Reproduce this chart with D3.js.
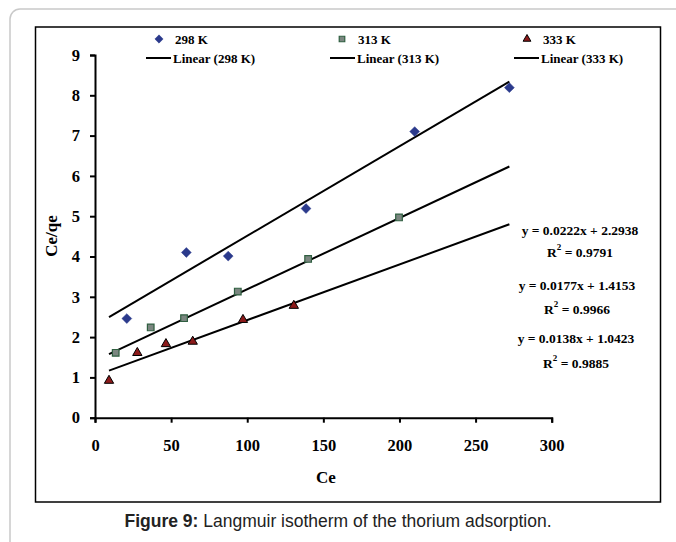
<!DOCTYPE html>
<html>
<head>
<meta charset="utf-8">
<script src="https://cdn.jsdelivr.net/npm/d3@7/dist/d3.min.js"></script>
<style>
  html, body { margin: 0; padding: 0; background: #fff; }
  svg { display: block; }
</style>
</head>
<body>
<svg id="chart" width="676" height="542"></svg>
<script>
// Langmuir isotherm data: Ce (x) against Ce/qe (y) at three temperatures
const series = ["298 K", "313 K", "333 K"];
const ce298 = [20.9, 60.0, 87.5, 138.6, 210.0, 272.2];
const ratio298 = [2.46, 4.10, 4.01, 5.19, 7.10, 8.19];
const ce313 = [13.6, 36.6, 58.5, 93.8, 140.0, 199.7];
const ratio313 = [1.61, 2.24, 2.47, 3.13, 3.94, 4.97];
const ce333 = [9.2, 27.8, 46.6, 64.2, 97.2, 130.6];
const ratio333 = [0.92, 1.61, 1.83, 1.89, 2.43, 2.78];

// Linear trendline coefficients and goodness of fit
const slopes = [0.0222, 0.0177, 0.0138];
const intercepts = [2.2938, 1.4153, 1.0423];
const rSquared = ["0.9791", "0.9966", "0.9885"];

const xTicks = [0, 50, 100, 150, 200, 250, 300];
const yTicks = [0, 1, 2, 3, 4, 5, 6, 7, 8, 9];

const svg = d3.select("#chart");
const serif = "'Liberation Serif', 'Times New Roman', serif";

// outer panel with rounded corner
svg.append("rect")
  .attr("x", 10).attr("y", 9)
  .attr("width", 700).attr("height", 560)
  .attr("rx", 10)
  .attr("fill", "none")
  .attr("stroke", "#c9c9c9")
  .attr("stroke-width", 1.5);

// chart frame
svg.append("rect")
  .attr("x", 35.5).attr("y", 27)
  .attr("width", 625).attr("height", 475)
  .attr("fill", "none")
  .attr("stroke", "#000")
  .attr("stroke-width", 1.5);

const x = d3.scaleLinear().domain([0, 300]).range([95, 551.7]);
const y = d3.scaleLinear().domain([0, 9]).range([417.7, 55]);

// axes
const xAxis = svg.append("g")
  .attr("transform", `translate(0,${y(0)})`)
  .call(d3.axisBottom(x).tickValues(xTicks).tickSize(5).tickPadding(17).tickFormat(d3.format("d")));
const yAxis = svg.append("g")
  .attr("transform", `translate(${x(0)},0)`)
  .call(d3.axisLeft(y).tickValues(yTicks).tickSize(5).tickPadding(10).tickFormat(d3.format("d")));

[xAxis, yAxis].forEach(g => {
  g.select(".domain").attr("stroke", "#000").attr("stroke-width", 2);
  g.selectAll(".tick line").attr("stroke", "#000").attr("stroke-width", 2);
  g.selectAll(".tick text")
    .attr("fill", "#000")
    .style("font-family", serif)
    .style("font-weight", "bold")
    .style("font-size", "16.5px");
});

// axis titles
svg.append("text")
  .attr("x", 326).attr("y", 477)
  .attr("text-anchor", "middle").attr("dominant-baseline", "central")
  .style("font-family", serif).style("font-weight", "bold").style("font-size", "17px")
  .text("Ce");
svg.append("text")
  .attr("transform", "translate(51,236) rotate(-90)")
  .attr("text-anchor", "middle").attr("dominant-baseline", "central")
  .style("font-family", serif).style("font-weight", "bold").style("font-size", "17px")
  .text("Ce/qe");

// trendlines across the full Ce range
const allCe = ce298.concat(ce313, ce333);
const xMin = d3.min(allCe), xMax = d3.max(allCe);
const line = d3.line().x(d => x(d[0])).y(d => y(d[1]));
slopes.forEach((m, i) => {
  const b = intercepts[i];
  svg.append("path")
    .attr("d", line([[xMin, m * xMin + b], [xMax, m * xMax + b]]))
    .attr("fill", "none")
    .attr("stroke", "#000")
    .attr("stroke-width", 2);
});

// marker shapes
const markerStyles = [
  { shape: d3.symbolDiamond2, size: 62, fill: "#2b3a8c", stroke: "#2b3a8c", sw: 0.5 },
  { shape: d3.symbolSquare2, size: 56, fill: "#7b8680", stroke: "#2f5f40", sw: 1.2 },
  { shape: d3.symbolTriangle2, size: 62, fill: "#8c1a1a", stroke: "#000", sw: 1 }
];
const points = [
  ce298.map((c, i) => [c, ratio298[i]]),
  ce313.map((c, i) => [c, ratio313[i]]),
  ce333.map((c, i) => [c, ratio333[i]])
];
points.forEach((pts, i) => {
  const st = markerStyles[i];
  svg.append("g").selectAll("path")
    .data(pts)
    .join("path")
    .attr("transform", d => `translate(${x(d[0])},${y(d[1])})`)
    .attr("d", d3.symbol().type(st.shape).size(st.size))
    .attr("fill", st.fill)
    .attr("stroke", st.stroke)
    .attr("stroke-width", st.sw);
});

// equations and R² labels
const eqY = [230.7, 285, 338];
const r2Y = [252, 309, 363.3];
const eqX = [580, 577, 576];
slopes.forEach((m, i) => {
  svg.append("text")
    .attr("x", eqX[i]).attr("y", eqY[i])
    .attr("text-anchor", "middle").attr("dominant-baseline", "central")
    .style("font-family", serif).style("font-weight", "bold").style("font-size", "13.5px")
    .text(`y = ${m.toFixed(4)}x + ${intercepts[i].toFixed(4)}`);
  const t = svg.append("text")
    .attr("x", eqX[i]).attr("y", r2Y[i])
    .attr("text-anchor", "middle").attr("dominant-baseline", "central")
    .style("font-family", serif).style("font-weight", "bold").style("font-size", "13.5px");
  t.append("tspan").text("R");
  t.append("tspan").attr("dy", -5).style("font-size", "9px").text("2");
  t.append("tspan").attr("dy", 5).text(` = ${rSquared[i]}`);
});

// legend
const legMarkX = [159, 342, 527];
const legTextX = [175, 358, 543];
const legLineX = [146, 330, 514];
const legLineTextX = [173, 357, 541];
series.forEach((name, i) => {
  const st = markerStyles[i];
  svg.append("path")
    .attr("transform", `translate(${legMarkX[i]},39)`)
    .attr("d", d3.symbol().type(st.shape).size(st.size * 0.7))
    .attr("fill", st.fill)
    .attr("stroke", st.stroke)
    .attr("stroke-width", st.sw);
  svg.append("text")
    .attr("x", legTextX[i]).attr("y", 39)
    .attr("dominant-baseline", "central")
    .style("font-family", serif).style("font-weight", "bold").style("font-size", "13px")
    .text(name);
  svg.append("line")
    .attr("x1", legLineX[i]).attr("x2", legLineX[i] + 25)
    .attr("y1", 58).attr("y2", 58)
    .attr("stroke", "#000").attr("stroke-width", 2);
  svg.append("text")
    .attr("x", legLineTextX[i]).attr("y", 58)
    .attr("dominant-baseline", "central")
    .style("font-family", serif).style("font-weight", "bold").style("font-size", "13px")
    .text(`Linear (${name})`);
});

// caption
const cap = svg.append("text")
  .attr("x", 338).attr("y", 521)
  .attr("text-anchor", "middle").attr("dominant-baseline", "central")
  .style("font-family", "'Liberation Sans', Arial, sans-serif")
  .style("font-size", "17.5px")
  .attr("fill", "#222");
cap.append("tspan").style("font-weight", "bold").text("Figure 9:");
cap.append("tspan").text(" Langmuir isotherm of the thorium adsorption.");
</script>
</body>
</html>
